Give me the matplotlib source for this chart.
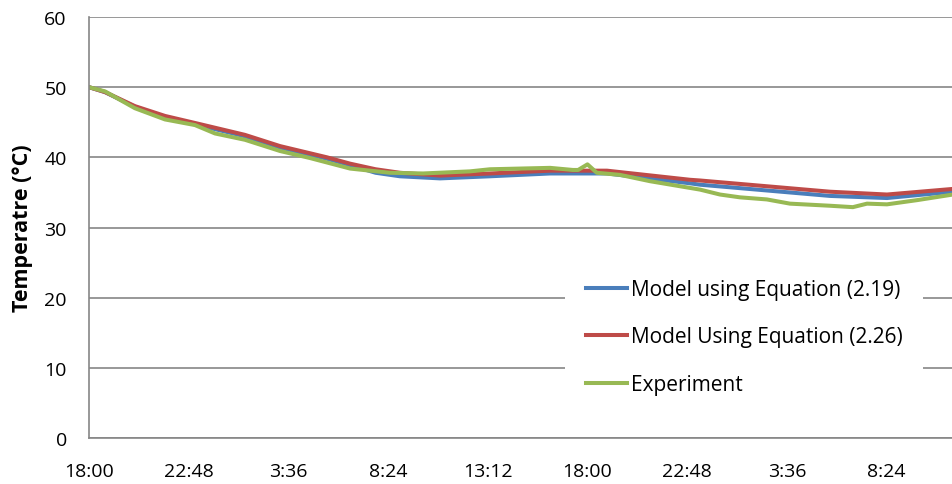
import matplotlib.pyplot as plt

# hours since 18:00 on day one, temperature in deg C
hours_exp = [0.0, 0.77, 2.21, 3.66, 5.10, 6.07, 7.51, 9.20, 10.64, 12.57, 14.49,
             16.08, 18.34, 19.31, 22.20, 23.30, 23.55, 24.0, 24.45, 25.57, 27.01,
             29.42, 30.38, 31.34, 32.64, 33.75, 35.68, 36.78, 37.46, 38.42, 39.87, 41.6]
temp_exp = [50.0, 49.4, 47.0, 45.4, 44.6, 43.4, 42.5, 40.9, 39.9, 38.4, 37.8,
            37.7, 38.0, 38.3, 38.5, 38.2, 38.2, 39.0, 37.8, 37.5, 36.6,
            35.4, 34.7, 34.3, 34.0, 33.4, 33.1, 32.9, 33.4, 33.3, 33.9, 34.7]

hours_mod = [0.0, 0.77, 2.21, 3.66, 5.10, 7.51, 9.20, 11.46, 12.57, 13.8, 14.97, 16.9,
             19.31, 22.2, 24.94, 28.94, 29.42, 35.68, 38.42, 41.6]
temp_219 = [50.0, 49.3, 47.2, 45.7, 44.7, 43.0, 41.4, 39.8, 38.9, 37.8, 37.3, 37.0,
            37.3, 37.7, 37.7, 36.3, 36.1, 34.5, 34.2, 35.1]
temp_226 = [50.0, 49.3, 47.3, 45.9, 44.9, 43.2, 41.6, 40.0, 39.1, 38.3, 37.8, 37.4,
            37.7, 38.1, 38.1, 36.8, 36.7, 35.1, 34.7, 35.5]

tick_hours = [0, 4.8, 9.6, 14.4, 19.2, 24.0, 28.8, 33.6, 38.4]
tick_labels = ["18:00", "22:48", "3:36", "8:24", "13:12", "18:00", "22:48", "3:36", "8:24"]

plt.rcParams['font.family'] = ['Open Sans', 'DejaVu Sans']

fig = plt.figure(figsize=(9.53, 4.85), dpi=100)
ax = fig.add_axes([89 / 953, 46 / 485, 864 / 953, 421 / 485])

ax.plot(hours_mod, temp_219, color='#4a7ebb', lw=2.9, label='Model using Equation (2.19)')
ax.plot(hours_mod, temp_226, color='#be4b48', lw=2.9, label='Model Using Equation (2.26)')
ax.plot(hours_exp, temp_exp, color='#98b954', lw=2.9, label='Experiment')

ax.set_xlim(0, 41.6)
ax.set_ylim(0, 60)
ax.set_yticks(range(0, 61, 10))
ax.set_xticks(tick_hours)
ax.set_xticklabels(tick_labels)
ax.tick_params(length=0, labelsize=14)
ax.tick_params(axis='y', pad=16)
ax.tick_params(axis='x', pad=17)
ax.grid(axis='y', color='#868686', lw=1.2)
ax.set_axisbelow(True)
for s in ['top', 'right']:
    ax.spines[s].set_visible(False)
for s in ['left', 'bottom']:
    ax.spines[s].set_color('#868686')
    ax.spines[s].set_linewidth(1.2)

ax.set_ylabel('Temperatre (°C)', fontsize=15.5, fontweight='bold', labelpad=8)

leg = fig.legend(loc='center', bbox_to_anchor=(744 / 953, 1 - 338 / 485), fontsize=15,
                 frameon=True, facecolor='white', edgecolor='none', framealpha=1,
                 fancybox=False, handlelength=2.0, handletextpad=0.15, labelspacing=1.27,
                 borderpad=1.0)

fig.savefig('out.png', dpi=100)
